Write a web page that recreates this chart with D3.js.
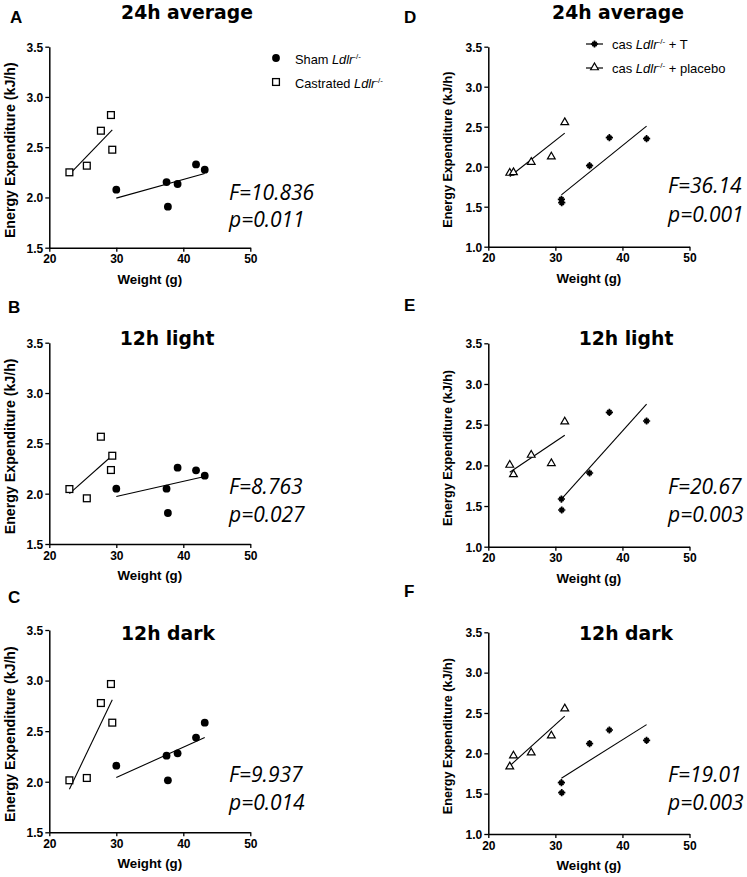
<!DOCTYPE html>
<html><head><meta charset="utf-8">
<script src="https://cdn.jsdelivr.net/npm/d3@7"></script>
<style>
html,body{margin:0;padding:0;background:#fff;}
svg{display:block;}
</style></head>
<body>
<svg id="chart" width="747" height="877"></svg>
<script>
// ---------- DATA ----------
const xTicks = [20, 30, 40, 50];
const yTicksLeft = [1.5, 2.0, 2.5, 3.0, 3.5];
const yTicksRight = [1.0, 1.5, 2.0, 2.5, 3.0, 3.5];

const shamWeight = [30.0, 37.5, 37.7, 39.15, 41.9, 43.2];
const castWeight = [23.0, 25.6, 27.7, 29.2, 29.4];
const placeboWeight = [23.2, 23.75, 26.4, 29.4, 31.4];
const tWeight = [30.9, 30.95, 35.1, 38.05, 43.6];

const sham24 = [2.077, 2.153, 1.908, 2.134, 2.329, 2.276];
const shamLight = [2.05, 2.05, 1.808, 2.258, 2.232, 2.179];
const shamDark = [2.159, 2.258, 2.014, 2.281, 2.436, 2.584];

const cast24 = [2.25, 2.316, 2.664, 2.82, 2.475];
const castLight = [2.046, 1.954, 2.566, 2.235, 2.377];
const castDark = [2.014, 2.037, 2.778, 2.966, 2.584];

const placebo24 = [1.921, 1.929, 2.058, 2.125, 2.554];
const placeboLight = [2.004, 1.889, 2.127, 2.025, 2.537];
const placeboDark = [1.835, 1.971, 2.008, 2.219, 2.554];

const t24 = [1.592, 1.55, 2.0125, 2.3625, 2.35];
const tLight = [1.586, 1.451, 1.906, 2.652, 2.545];
const tDark = [1.636, 1.512, 2.12, 2.289, 2.161];

const panelLetters = ["A", "B", "C", "D", "E", "F"];
const panelTitles = ["24h average", "12h light", "12h dark", "24h average", "12h light", "12h dark"];
const fStats = ["F=10.836", "F=8.763", "F=9.937", "F=36.14", "F=20.67", "F=19.01"];
const pStats = ["p=0.011", "p=0.027", "p=0.014", "p=0.001", "p=0.003", "p=0.003"];

// ---------- LAYOUT ----------
const svg = d3.select("#chart");
const L = {x0: 49.3, x1: 250.3, ylabX: 10, ylabSize: 14.2, fx: 229};
const R = {x0: 488.3, x1: 689.5, ylabX: 448, ylabSize: 12.6, fx: 668};
const panels = [
  {col: L, top: 46.7, bottom: 247.7, yd: [1.5, 3.5], yt: yTicksLeft, letterX: 10, letterY: 23, titleX: 187, titleY: 18.5, fY: 200, pY: 227,
   groups: [{w: shamWeight, v: sham24, m: "circle"}, {w: castWeight, v: cast24, m: "square"}]},
  {col: L, top: 342.7, bottom: 544, yd: [1.5, 3.5], yt: yTicksLeft, letterX: 8, letterY: 313, titleX: 167, titleY: 345, fY: 494, pY: 522,
   groups: [{w: shamWeight, v: shamLight, m: "circle"}, {w: castWeight, v: castLight, m: "square"}]},
  {col: L, top: 630, bottom: 832.3, yd: [1.5, 3.5], yt: yTicksLeft, letterX: 8, letterY: 603, titleX: 168, titleY: 640, fY: 782, pY: 810,
   groups: [{w: shamWeight, v: shamDark, m: "circle"}, {w: castWeight, v: castDark, m: "square"}]},
  {col: R, top: 46.7, bottom: 246.7, yd: [1.0, 3.5], yt: yTicksRight, letterX: 404, letterY: 23, titleX: 618, titleY: 18.5, fY: 193, pY: 222,
   groups: [{w: placeboWeight, v: placebo24, m: "triangle"}, {w: tWeight, v: t24, m: "star"}]},
  {col: R, top: 343.3, bottom: 546.7, yd: [1.0, 3.5], yt: yTicksRight, letterX: 404, letterY: 311, titleX: 626, titleY: 345, fY: 494, pY: 522,
   groups: [{w: placeboWeight, v: placeboLight, m: "triangle"}, {w: tWeight, v: tLight, m: "star"}]},
  {col: R, top: 632.3, bottom: 834, yd: [1.0, 3.5], yt: yTicksRight, letterX: 404, letterY: 597, titleX: 626, titleY: 640, fY: 782, pY: 810,
   groups: [{w: placeboWeight, v: placeboDark, m: "triangle"}, {w: tWeight, v: tDark, m: "star"}]}
];

const starSymbol = {
  draw(ctx, size) {
    const r = Math.sqrt(size) / 2;
    ctx.moveTo(-r, 0); ctx.lineTo(r, 0);
    ctx.moveTo(0, -r); ctx.lineTo(0, r);
    const d = r * 0.6;
    ctx.moveTo(-d, -d); ctx.lineTo(d, d);
    ctx.moveTo(-d, d); ctx.lineTo(d, -d);
  }
};

function drawMarker(g, m, x, y) {
  if (m === "circle") {
    g.append("circle").attr("cx", x).attr("cy", y).attr("r", 3.9).attr("fill", "#000");
  } else if (m === "square") {
    g.append("rect").attr("x", x - 3.4).attr("y", y - 3.4).attr("width", 6.8).attr("height", 6.8)
      .attr("fill", "#fff").attr("stroke", "#000").attr("stroke-width", 1.3);
  } else if (m === "triangle") {
    g.append("path").attr("d", d3.symbol(d3.symbolTriangle, 26)()).attr("transform", `translate(${x},${y})`)
      .attr("fill", "#fff").attr("stroke", "#000").attr("stroke-width", 1.2);
  } else {
    g.append("path").attr("d", d3.symbol(starSymbol, 52)()).attr("transform", `translate(${x},${y})`)
      .attr("fill", "none").attr("stroke", "#000").attr("stroke-width", 1.7);
  }
}

function regress(xs, ys) {
  const mx = d3.mean(xs), my = d3.mean(ys);
  let sxy = 0, sxx = 0;
  xs.forEach((x, i) => { sxy += (x - mx) * (ys[i] - my); sxx += (x - mx) * (x - mx); });
  const b = sxy / sxx;
  return x => my + b * (x - mx);
}

panels.forEach((p, i) => {
  const x = d3.scaleLinear().domain([20, 50]).range([p.col.x0, p.col.x1]);
  const y = d3.scaleLinear().domain(p.yd).range([p.bottom, p.top]);
  const g = svg.append("g");

  const xa = g.append("g").attr("transform", `translate(0,${p.bottom})`)
    .call(d3.axisBottom(x).tickValues(xTicks).tickSize(4).tickSizeOuter(0).tickPadding(3));
  const ya = g.append("g").attr("transform", `translate(${p.col.x0},0)`)
    .call(d3.axisLeft(y).tickValues(p.yt).tickFormat(d3.format(".1f")).tickSize(4).tickSizeOuter(0).tickPadding(2));
  [xa, ya].forEach(a => {
    a.select(".domain").attr("stroke-width", 1.5);
    a.selectAll(".tick line").attr("stroke-width", 1.3);
    a.selectAll("text").attr("font-family", "Liberation Sans, Arial, sans-serif")
      .attr("font-weight", "bold").attr("font-size", 12).attr("fill", "#000");
  });
  ya.selectAll("text").attr("dy", "0.36em");

  g.append("text").attr("x", (p.col.x0 + p.col.x1) / 2).attr("y", p.bottom + 36)
    .attr("text-anchor", "middle").attr("font-family", "Liberation Sans, Arial, sans-serif")
    .attr("font-weight", "bold").attr("font-size", 13.3).text("Weight (g)");

  g.append("text").attr("transform", `translate(${p.col.ylabX},${(p.top + p.bottom) / 2 + 3}) rotate(-90)`)
    .attr("text-anchor", "middle").attr("dominant-baseline", "central")
    .attr("font-family", "Liberation Sans, Arial, sans-serif")
    .attr("font-weight", "bold").attr("font-size", p.col.ylabSize).text("Energy Expenditure (kJ/h)");

  g.append("text").attr("x", p.letterX).attr("y", p.letterY)
    .attr("font-family", "Liberation Sans, Arial, sans-serif").attr("font-weight", "bold")
    .attr("font-size", 17).text(panelLetters[i]);

  g.append("text").attr("x", p.titleX).attr("y", p.titleY).attr("text-anchor", "middle")
    .attr("font-family", "DejaVu Sans, sans-serif").attr("font-weight", "bold")
    .attr("font-size", 18.8).text(panelTitles[i]);

  [[fStats[i], p.fY], [pStats[i], p.pY]].forEach(([t, yy]) => {
    g.append("text").attr("x", p.col.fx).attr("y", yy)
      .attr("font-family", "Open Sans, sans-serif").attr("font-style", "italic")
      .attr("font-size", 21).text(t);
  });

  p.groups.forEach(gr => {
    const f = regress(gr.w, gr.v);
    const [wmin, wmax] = d3.extent(gr.w);
    g.append("line").attr("x1", x(wmin)).attr("y1", y(f(wmin))).attr("x2", x(wmax)).attr("y2", y(f(wmax)))
      .attr("stroke", "#000").attr("stroke-width", 1.1);
  });
  p.groups.forEach(gr => {
    gr.w.forEach((w, k) => drawMarker(g, gr.m, x(w), y(gr.v[k])));
  });
});

// ---------- LEGENDS ----------
function legendText(xp, yp, pre, post, size) {
  const t = svg.append("text").attr("x", xp).attr("y", yp)
    .attr("font-family", "Liberation Sans, Arial, sans-serif").attr("font-size", size);
  t.append("tspan").text(pre);
  t.append("tspan").attr("font-style", "italic").text("Ldlr");
  t.append("tspan").attr("font-size", size * 0.62).attr("dy", -size * 0.4).text("-/-");
  if (post) t.append("tspan").attr("dy", size * 0.4).text(post);
}
const lg = svg.append("g");
drawMarker(lg, "circle", 276, 58);
legendText(295, 64, "Sham ", "", 12.8);
drawMarker(lg, "square", 276, 82);
legendText(295, 88, "Castrated ", "", 12.8);

lg.append("line").attr("x1", 586).attr("x2", 603).attr("y1", 44).attr("y2", 44).attr("stroke", "#000").attr("stroke-width", 1.2);
drawMarker(lg, "star", 594.5, 44);
legendText(612, 49, "cas ", " + T", 13);
lg.append("line").attr("x1", 586).attr("x2", 603).attr("y1", 68).attr("y2", 68).attr("stroke", "#000").attr("stroke-width", 1.2);
drawMarker(lg, "triangle", 594.5, 67.5);
legendText(612, 73, "cas ", " + placebo", 13);
</script>
</body></html>
